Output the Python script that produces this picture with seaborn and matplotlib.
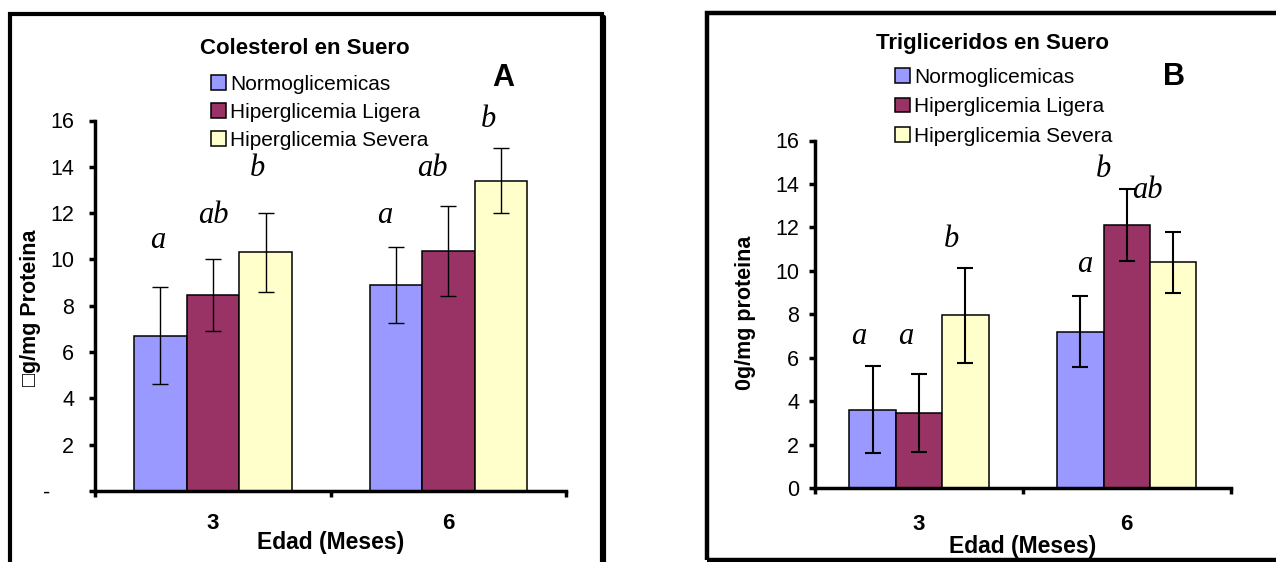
import numpy as np
import pandas as pd
import seaborn as sns
import matplotlib.pyplot as plt
from matplotlib.patches import Rectangle
from matplotlib.lines import Line2D

# categorias y grupos
edades = ['3', '6']
grupos = ['Normoglicemicas', 'Hiperglicemia Ligera', 'Hiperglicemia Severa']
colores = ['#9999FF', '#993366', '#FFFFCC']

# Panel A: colesterol (filas = grupo, columnas = edad)
col_media = [[6.7, 8.9], [8.45, 10.35], [10.3, 13.4]]
col_err = [[2.1, 1.65], [1.55, 1.95], [1.7, 1.4]]
col_letras = [['a', 'a'], ['ab', 'ab'], ['b', 'b']]

# Panel B: trigliceridos
tri_media = [[3.6, 7.2], [3.45, 12.1], [7.95, 10.4]]
tri_err = [[2.0, 1.65], [1.8, 1.65], [2.2, 1.4]]
tri_letras = [['a', 'a'], ['a', 'b'], ['b', 'ab']]

W, H = 1276, 562

sns.set_theme(style='white')
plt.rcParams['font.family'] = ['Liberation Sans', 'DejaVu Sans']
plt.rcParams['text.color'] = 'black'
plt.rcParams['axes.labelcolor'] = 'black'
plt.rcParams['xtick.color'] = 'black'
plt.rcParams['ytick.color'] = 'black'

fig = plt.figure(figsize=(W / 100, H / 100), dpi=100)


def px_axes(left, right, top, bottom):
    return fig.add_axes([left / W, 1 - bottom / H, (right - left) / W, (bottom - top) / H])


def tabla(media):
    filas = []
    for i, g in enumerate(grupos):
        for j, e in enumerate(edades):
            filas.append({'edad': e, 'grupo': g, 'valor': media[i][j]})
    return pd.DataFrame(filas)


def panel(ax, media, err, letras, pos_letras, elw, ylabel, spacing):
    sns.barplot(data=tabla(media), x='edad', y='valor', hue='grupo', order=edades,
                hue_order=grupos, palette=colores, saturation=1, width=0.67, gap=0,
                edgecolor='black', linewidth=1.1, errorbar=None, legend=False, ax=ax)
    barras = list(ax.containers)
    for i, cont in enumerate(barras):
        xs = [b.get_x() + b.get_width() / 2 for b in cont]
        ax.errorbar(xs, media[i], yerr=err[i], fmt='none', ecolor='black',
                    elinewidth=elw, capsize=5.5, capthick=elw, zorder=5)
        for j in range(len(edades)):
            dx, y = pos_letras[i][j]
            ax.text(xs[j] + dx, y, letras[i][j], ha='center', va='baseline',
                    fontsize=22, style='italic', family='Liberation Serif')
    ax.set_xlim(-0.5, 1.5)
    ax.set_ylim(0, 16)
    ax.set_yticks(np.arange(0, 17, 2))
    ax.set_xticks([0, 1])
    ax.set_xticks([-0.5, 0.5, 1.5], minor=True)
    ax.set_xticklabels(edades, fontweight='bold', fontsize=16)
    for s in ['top', 'right']:
        ax.spines[s].set_visible(False)
    for s in ['left', 'bottom']:
        ax.spines[s].set_linewidth(2.5)
        ax.spines[s].set_color('black')
    ax.tick_params(axis='x', which='major', length=0)
    ax.tick_params(axis='x', which='minor', length=4.3, width=2.5, direction='out',
                   bottom=True)
    ax.tick_params(axis='y', which='major', length=4.3, width=2.5, direction='out',
                   left=True, labelsize=15.5)
    ax.set_xlabel('Edad (Meses)', fontweight='bold', fontsize=16.5)
    ax.set_ylabel(ylabel, fontweight='bold', fontsize=15.5)
    leg = ax.legend(barras, grupos, frameon=False, fontsize=15, loc='upper left',
                    handlelength=0.7, handleheight=0.7, handletextpad=0.2,
                    labelspacing=spacing, borderpad=0, borderaxespad=0)
    return leg


# ---- Panel A ----
axA = px_axes(95.4, 566, 120.5, 491)
pos_A = [[(-0.01, 10.5), (-0.046, 11.56)],
         [(0.0, 11.56), (-0.069, 13.6)],
         [(-0.036, 13.6), (-0.051, 15.7)]]
legA = panel(axA, col_media, col_err, col_letras, pos_A, 1.0, '\u25a1g/mg Proteina', 0.42)
axA.set_yticklabels(['-    '] + [str(v) for v in range(2, 17, 2)])
axA.tick_params(axis='y', pad=11)
axA.tick_params(axis='x', which='major', pad=16)
axA.yaxis.set_label_coords(-0.115, 0.494)
axA.xaxis.set_label_coords(0.5, -0.108)
legA.set_bbox_to_anchor((211 / W, 1 - 75 / H), transform=fig.transFigure)
fig.text(305 / W, 1 - 48 / H, 'Colesterol en Suero', fontsize=16, fontweight='bold',
         ha='center', va='center')
fig.text(503 / W, 1 - 78 / H, 'A', fontsize=22, fontweight='bold', ha='center', va='center')

# ---- Panel B ----
axB = px_axes(815, 1230.7, 140.5, 488)
pos_B = [[(-0.065, 6.63), (0.022, 9.96)],
         [(-0.062, 6.63), (-0.114, 14.33)],
         [(-0.066, 11.08), (-0.123, 13.35)]]
legB = panel(axB, tri_media, tri_err, tri_letras, pos_B, 1.5, '0g/mg proteina', 0.5)
axB.tick_params(axis='y', pad=7)
axB.tick_params(axis='x', which='major', pad=19)
axB.yaxis.set_label_coords(-0.142, 0.504)
axB.xaxis.set_label_coords(0.5, -0.135)
legB.set_bbox_to_anchor((895 / W, 1 - 68 / H), transform=fig.transFigure)
fig.text(993 / W, 1 - 44 / H, 'Trigliceridos en Suero', fontsize=16, fontweight='bold',
         ha='center', va='center')
fig.text(1174 / W, 1 - 77 / H, 'B', fontsize=22, fontweight='bold', ha='center', va='center')

# marcos de cada grafico
fig.add_artist(Rectangle((10 / W, -0.1), (602 - 10) / W, 1.1 - 14 / H,
                         transform=fig.transFigure, fill=False, lw=3, ec='black'))
fig.add_artist(Line2D([604 / W, 604 / W], [-0.1, 1 - 17 / H], transform=fig.transFigure,
                      lw=3, color='black'))
fig.add_artist(Rectangle((707 / W, 1 - 560 / H), 0.5, (560 - 12.5) / H,
                         transform=fig.transFigure, fill=False, lw=3.2, ec='black'))

fig.savefig('out.png', dpi=100)
